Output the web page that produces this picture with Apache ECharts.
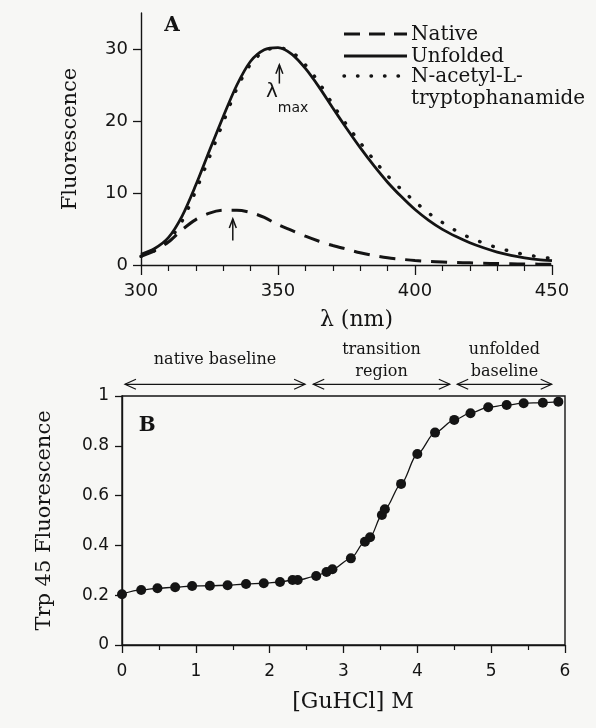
<!DOCTYPE html>
<html>
<head>
<meta charset="utf-8">
<script src="https://cdn.jsdelivr.net/npm/echarts@6/dist/echarts.min.js"></script>
<style>
  html, body { margin: 0; padding: 0; background: #f7f7f5; }
  #chart { width: 596px; height: 728px; }
</style>
</head>
<body>
<div id="chart"></div>
<script>
// Panel A: emission spectra (wavelength in nm, fluorescence in arbitrary units)
const wavelengths = [300, 305, 310, 315, 320, 325, 330, 335, 340, 345, 350, 355, 360, 365, 370,
  375, 380, 385, 390, 395, 400, 405, 410, 415, 420, 425, 430, 435, 440, 445, 450];
const nativeSpectrum = [1.2, 2.0, 3.2, 4.9, 6.3, 7.2, 7.6, 7.6, 7.3, 6.6, 5.6, 4.8, 4.0, 3.3, 2.7,
  2.2, 1.7, 1.3, 1.0, 0.8, 0.62, 0.5, 0.42, 0.35, 0.3, 0.25, 0.2, 0.17, 0.14, 0.12, 0.1];
const unfoldedSpectrum = [1.5, 2.3, 3.8, 6.8, 11.1, 15.9, 20.6, 25.0, 28.3, 29.9, 30.2, 29.3, 27.3, 24.7, 21.8,
  19.0, 16.3, 13.8, 11.5, 9.5, 7.7, 6.2, 4.95, 3.95, 3.1, 2.4, 1.8, 1.35, 1.0, 0.75, 0.6];
const natmSpectrum = [1.2, 2.0, 3.4, 6.1, 10.3, 15.0, 19.8, 24.5, 27.9, 29.7, 30.2, 29.6, 27.8, 25.3, 22.3,
  19.5, 17.0, 14.6, 12.4, 10.5, 8.8, 7.2, 5.9, 4.75, 3.8, 3.05, 2.4, 1.9, 1.45, 1.15, 0.9];
const spectrumXTicks = [300, 350, 400, 450];
const spectrumYTicks = [0, 10, 20, 30];

// Panel B: GuHCl denaturation followed by Trp 45 fluorescence
const guhcl = [0.0, 0.26, 0.48, 0.72, 0.95, 1.19, 1.43, 1.68, 1.92, 2.14, 2.31, 2.38, 2.63, 2.77, 2.85,
  3.10, 3.29, 3.36, 3.52, 3.56, 3.78, 4.00, 4.24, 4.50, 4.72, 4.96, 5.21, 5.44, 5.70, 5.91];
const trp45 = [0.204, 0.221, 0.228, 0.232, 0.237, 0.238, 0.240, 0.245, 0.248, 0.253, 0.261, 0.261, 0.277, 0.293, 0.304,
  0.348, 0.415, 0.433, 0.522, 0.545, 0.647, 0.767, 0.853, 0.904, 0.931, 0.955, 0.964, 0.971, 0.973, 0.977];
const guhclTicks = [0, 1, 2, 3, 4, 5, 6];
const trp45Ticks = [0, 0.2, 0.4, 0.6, 0.8, 1];

// Region annotations above panel B, in M of GuHCl
const regionNames = ['native baseline', 'transition\nregion', 'unfolded\nbaseline'];
const regionStart = [0.04, 2.59, 4.54];
const regionEnd = [2.48, 4.44, 5.82];

const INK = '#141414';
const SANS = 'DejaVu Sans';
const SERIF = 'DejaVu Serif';

const chart = echarts.init(document.getElementById('chart'), null, { renderer: 'canvas' });

const pairs = (xs, ys) => xs.map((x, i) => [x, ys[i]]);

const axisLine = { show: true, lineStyle: { color: INK, width: 1.4 } };

chart.setOption({
  backgroundColor: '#f7f7f5',
  animation: false,
  grid: [
    { left: 141, right: 44, top: 13, bottom: 463, containLabel: false },
    { left: 122, right: 31, top: 396, bottom: 83, containLabel: false,
      show: true, borderColor: INK, borderWidth: 1.4, backgroundColor: 'transparent' }
  ],
  xAxis: [
    {
      gridIndex: 0, type: 'value', min: spectrumXTicks[0], max: spectrumXTicks[spectrumXTicks.length - 1], interval: 50,
      axisLine, splitLine: { show: false },
      axisTick: { show: true, length: 10, lineStyle: { color: INK, width: 1.3 } },
      minorTick: { show: true, splitNumber: 5, length: 6, lineStyle: { color: INK, width: 1.2 } },
      axisLabel: { color: INK, fontFamily: SANS, fontSize: 18, margin: 17 },
      name: 'λ (nm)', nameLocation: 'middle', nameGap: 44,
      nameTextStyle: { color: INK, fontFamily: SERIF, fontSize: 22, padding: [0, 0, 0, 20] }
    },
    {
      gridIndex: 1, type: 'value', min: guhclTicks[0], max: guhclTicks[guhclTicks.length - 1], interval: 1,
      axisLine, splitLine: { show: false },
      axisTick: { show: true, length: 8, lineStyle: { color: INK, width: 1.3 } },
      minorTick: { show: true, splitNumber: 2, length: 5, lineStyle: { color: INK, width: 1.2 } },
      axisLabel: { color: INK, fontFamily: SANS, fontSize: 17, margin: 18 },
      name: '[GuHCl] M', nameLocation: 'middle', nameGap: 46,
      nameTextStyle: { color: INK, fontFamily: SERIF, fontSize: 22, padding: [0, 0, 0, 19] }
    }
  ],
  yAxis: [
    {
      gridIndex: 0, type: 'value', min: 0, max: 35,
      axisLine, splitLine: { show: false },
      axisTick: { show: true, length: 8, customValues: spectrumYTicks, lineStyle: { color: INK, width: 1.3 } },
      axisLabel: { color: INK, fontFamily: SANS, fontSize: 18, margin: 13, customValues: spectrumYTicks },
      name: 'Fluorescence', nameLocation: 'middle', nameGap: 60,
      nameTextStyle: { color: INK, fontFamily: SERIF, fontSize: 21 }
    },
    {
      gridIndex: 1, type: 'value', min: trp45Ticks[0], max: trp45Ticks[trp45Ticks.length - 1], interval: 0.2,
      axisLine, splitLine: { show: false },
      axisTick: { show: true, length: 7, lineStyle: { color: INK, width: 1.3 } },
      axisLabel: { color: INK, fontFamily: SANS, fontSize: 17, margin: 13 },
      name: 'Trp 45 Fluorescence', nameLocation: 'middle', nameGap: 67,
      nameTextStyle: { color: INK, fontFamily: SERIF, fontSize: 21 }
    }
  ],
  series: [
    {
      name: 'Native', type: 'line', xAxisIndex: 0, yAxisIndex: 0,
      data: pairs(wavelengths, nativeSpectrum), showSymbol: false, smooth: 0.3,
      lineStyle: { color: INK, width: 3, type: [16, 10] }
    },
    {
      name: 'Unfolded', type: 'line', xAxisIndex: 0, yAxisIndex: 0,
      data: pairs(wavelengths, unfoldedSpectrum), showSymbol: false, smooth: 0.3,
      lineStyle: { color: INK, width: 2.8 }
    },
    {
      name: 'N-acetyl-L-tryptophanamide', type: 'line', xAxisIndex: 0, yAxisIndex: 0,
      data: pairs(wavelengths, natmSpectrum), showSymbol: false, smooth: 0.3,
      lineStyle: { color: INK, width: 3.4, type: [0.5, 13.5], cap: 'round' }
    },
    {
      name: 'Trp 45', type: 'line', xAxisIndex: 1, yAxisIndex: 1,
      data: pairs(guhcl, trp45), smooth: 0.3, smoothMonotone: 'x',
      symbol: 'circle', symbolSize: 10, showSymbol: true, clip: false,
      itemStyle: { color: INK },
      lineStyle: { color: INK, width: 1.3 }
    }
  ]
});

// Annotations placed in data coordinates
const pA = (x, y) => chart.convertToPixel({ gridIndex: 0 }, [x, y]);
const pB = (x, y) => chart.convertToPixel({ gridIndex: 1 }, [x, y]);

const graphics = [];

function upArrow(p0, p1) {
  graphics.push({ type: 'line', shape: { x1: p0[0], y1: p0[1], x2: p1[0], y2: p1[1] },
    style: { stroke: INK, lineWidth: 1.5 } });
  graphics.push({ type: 'polyline', shape: { points: [[p1[0] - 3.5, p1[1] + 9], [p1[0], p1[1]], [p1[0] + 3.5, p1[1] + 9]] },
    style: { stroke: INK, lineWidth: 1.5, fill: null } });
}
upArrow(pA(333.5, 3.4), pA(333.5, 6.4));
upArrow(pA(350.5, 25.2), pA(350.5, 27.8));

const lam = pA(347.8, 24.0);
graphics.push({ type: 'text', x: lam[0], y: lam[1],
  style: { text: 'λ', font: `20px "${SANS}"`, fill: INK, align: 'center', verticalAlign: 'middle' } });
const sub = pA(355.5, 21.8);
graphics.push({ type: 'text', x: sub[0], y: sub[1],
  style: { text: 'max', font: `14px "${SANS}"`, fill: INK, align: 'center', verticalAlign: 'middle' } });

const lblA = pA(311.3, 33.2);
graphics.push({ type: 'text', x: lblA[0], y: lblA[1],
  style: { text: 'A', font: `bold 20px "${SERIF}"`, fill: INK, align: 'center', verticalAlign: 'middle' } });
const lblB = pB(0.34, 0.88);
graphics.push({ type: 'text', x: lblB[0], y: lblB[1],
  style: { text: 'B', font: `bold 20px "${SERIF}"`, fill: INK, align: 'center', verticalAlign: 'middle' } });

// Legend for panel A
const legendRows = [
  { name: 'Native', y: 34, line: { stroke: INK, lineWidth: 3, lineDash: [16, 9] } },
  { name: 'Unfolded', y: 56, line: { stroke: INK, lineWidth: 2.8 } },
  { name: 'N-acetyl-L-', y: 76, line: { stroke: INK, lineWidth: 3.4, lineDash: [0.5, 13], lineCap: 'round' } }
];
legendRows.forEach(r => {
  graphics.push({ type: 'line', shape: { x1: 344, y1: r.y, x2: 407, y2: r.y }, style: r.line });
  graphics.push({ type: 'text', x: 411, y: r.y + 1,
    style: { text: r.name, font: `20px "${SERIF}"`, fill: INK, align: 'left', verticalAlign: 'middle' } });
});
graphics.push({ type: 'text', x: 411, y: 99,
  style: { text: 'tryptophanamide', font: `20px "${SERIF}"`, fill: INK, align: 'left', verticalAlign: 'middle' } });

// Region brackets above panel B
regionNames.forEach((name, i) => {
  const a = pB(regionStart[i], 1.047);
  const b = pB(regionEnd[i], 1.047);
  const y = a[1];
  graphics.push({ type: 'line', shape: { x1: a[0], y1: y, x2: b[0], y2: y }, style: { stroke: INK, lineWidth: 1.2 } });
  graphics.push({ type: 'polyline', shape: { points: [[a[0] + 11, y - 5], [a[0], y], [a[0] + 11, y + 5]] },
    style: { stroke: INK, lineWidth: 1.2, fill: null } });
  graphics.push({ type: 'polyline', shape: { points: [[b[0] - 11, y - 5], [b[0], y], [b[0] - 11, y + 5]] },
    style: { stroke: INK, lineWidth: 1.2, fill: null } });
  const lines = name.split('\n');
  const cx = (a[0] + b[0]) / 2;
  const baseY = lines.length === 1 ? y - 24 : y - 34;
  lines.forEach((t, k) => {
    graphics.push({ type: 'text', x: cx, y: baseY + k * 22,
      style: { text: t, font: `16px "${SERIF}"`, fill: INK, align: 'center', verticalAlign: 'middle' } });
  });
});

chart.setOption({ graphic: graphics });
</script>
</body>
</html>
